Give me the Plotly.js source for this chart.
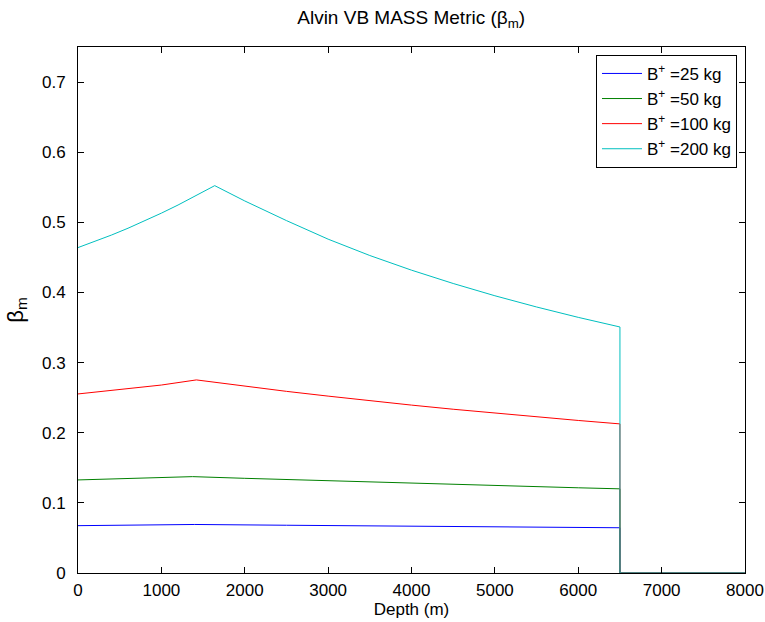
<!DOCTYPE html>
<html>
<head>
<meta charset="utf-8">
<script src="https://cdn.plot.ly/plotly-3.0.1.min.js"></script>
<style>
  html, body { margin: 0; padding: 0; background: #fff; }
  #chart { width: 765px; height: 622px; }
</style>
</head>
<body>
<div id="chart"></div>
<script>
// Alvin variable-ballast mass metric versus operating depth, one curve per
// added buoyancy B+. Beyond the 6500 m rated depth the metric is zero.
var seriesNames = ['B<sup>+</sup> =25 kg', 'B<sup>+</sup> =50 kg', 'B<sup>+</sup> =100 kg', 'B<sup>+</sup> =200 kg'];
var seriesColors = ['#0000ff', '#008000', '#ff0000', '#00bfbf'];

var depth25 = [0, 700, 1400, 2500, 3500, 4500, 5500, 6500, 6500, 8000];
var beta25  = [0.0675, 0.0685, 0.0692, 0.0681, 0.0672, 0.0663, 0.0654, 0.0645, 0, 0];

var depth50 = [0, 700, 1375, 2000, 3000, 4000, 5000, 6000, 6500, 6500, 8000];
var beta50  = [0.1327, 0.1349, 0.1374, 0.1350, 0.1314, 0.1279, 0.1246, 0.1215, 0.1200, 0, 0];

var depth100 = [0, 500, 1000, 1420, 2000, 2500, 3000, 3500, 4000, 4500, 5000, 5500, 6000, 6500, 6500, 8000];
var beta100  = [0.2553, 0.2612, 0.2680, 0.2753, 0.2663, 0.2590, 0.2522, 0.2456, 0.2394, 0.2335, 0.2279, 0.2226, 0.2175, 0.2126, 0, 0];

var depth200 = [0, 200, 400, 600, 800, 1000, 1200, 1400, 1640, 2000, 2500, 3000, 3500, 4000, 4500, 5000, 5500, 6000, 6500, 6500, 8000];
var beta200  = [0.4640, 0.4726, 0.4818, 0.4916, 0.5020, 0.5131, 0.5247, 0.5369, 0.5523, 0.5305, 0.5025, 0.4760, 0.4527, 0.4318, 0.4128, 0.3953, 0.3793, 0.3645, 0.3508, 0, 0];

var xTicks = [0, 1000, 2000, 3000, 4000, 5000, 6000, 7000, 8000];
var yTicks = [0, 0.1, 0.2, 0.3, 0.4, 0.5, 0.6, 0.7];

var depths = [depth25, depth50, depth100, depth200];
var betas = [beta25, beta50, beta100, beta200];

var FONT = 'Liberation Sans, Arial, Helvetica, sans-serif';

var traces = depths.map(function (d, i) {
  return {
    x: d,
    y: betas[i],
    type: 'scatter',
    mode: 'lines',
    name: seriesNames[i],
    line: { color: seriesColors[i], width: 1 }
  };
});

var axisCommon = {
  showgrid: false,
  zeroline: false,
  showline: true,
  linecolor: '#000',
  linewidth: 1,
  mirror: 'allticks',
  ticks: 'inside',
  ticklen: 6,
  tickcolor: '#000',
  tickwidth: 1,
  tickfont: { family: FONT, size: 17, color: '#000' }
};

var layout = {
  width: 765,
  height: 622,
  margin: { l: 78, r: 20, t: 47, b: 49 },
  paper_bgcolor: '#fff',
  plot_bgcolor: '#fff',
  title: {
    text: 'Alvin VB MASS Metric (β<sub>m</sub>)',
    font: { family: FONT, size: 19, color: '#000' },
    x: 0.5375, xanchor: 'center',
    y: 0.972, yanchor: 'middle'
  },
  xaxis: Object.assign({}, axisCommon, {
    range: [0, 8000],
    tickvals: xTicks,
    ticktext: xTicks.map(String),
    ticklabelstandoff: 2,
    title: { text: 'Depth (m)', font: { family: FONT, size: 17, color: '#000' }, standoff: 0 }
  }),
  yaxis: Object.assign({}, axisCommon, {
    range: [0, 0.75],
    tickvals: yTicks,
    ticktext: yTicks.map(String),
    ticklabelstandoff: 8,
    title: { text: 'β<sub>m</sub>', font: { family: FONT, size: 22, color: '#000' }, standoff: 12 }
  }),
  showlegend: true,
  legend: {
    x: 0.988, xanchor: 'right',
    y: 0.985, yanchor: 'top',
    bgcolor: '#fff',
    bordercolor: '#000',
    borderwidth: 1,
    font: { family: FONT, size: 17, color: '#000' },
    tracegroupgap: 0,
    itemwidth: 40
  }
};

Plotly.newPlot('chart', traces, layout, { displayModeBar: false, staticPlot: true });
</script>
</body>
</html>
